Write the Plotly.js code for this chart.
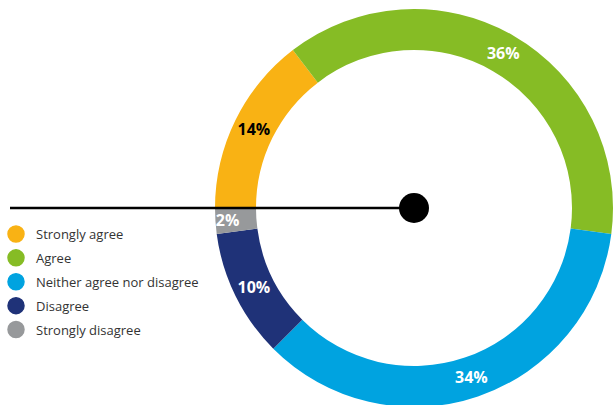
<!DOCTYPE html>
<html>
<head>
<meta charset="utf-8">
<script src="https://cdn.plot.ly/plotly-3.0.1.min.js"></script>
<style>
html, body { margin: 0; padding: 0; overflow: hidden; background: #fff; }
#chart { width: 616px; height: 416px; }
</style>
</head>
<body>
<div id="chart"></div>
<script>
// Data
var categories = ["Strongly agree", "Agree", "Neither agree nor disagree", "Disagree", "Strongly disagree"];
var values = [14, 36, 34, 10, 2];
var labelsText = ["14%", "36%", "34%", "10%", "2%"];
var colors = ["#F9B214", "#86BC25", "#00A3E0", "#1F3278", "#97999B"];
var textColors = ["#000000", "#FFFFFF", "#FFFFFF", "#FFFFFF", "#FFFFFF"];

var W = 616, H = 416;

var traces = [{
  type: "pie",
  labels: categories,
  values: values,
  text: labelsText,
  textinfo: "text",
  textposition: "inside",
  insidetextorientation: "horizontal",
  insidetextfont: { family: "Open Sans", size: 16, color: textColors, weight: "bold" },
  marker: { colors: colors, line: { width: 0 } },
  hole: 0.794,
  sort: false,
  direction: "clockwise",
  rotation: -90,
  showlegend: false,
  domain: { x: [215 / W, 613 / W], y: [0, 1] },
  hoverinfo: "label+text"
}];

categories.forEach(function (c, i) {
  traces.push({
    type: "scatter",
    mode: "markers",
    x: [null], y: [null],
    name: c,
    legendgroup: "g" + i,
    marker: { color: colors[i], size: 16, symbol: "circle", line: { color: colors[i], width: 1.5 } },
    showlegend: true,
    hoverinfo: "skip"
  });
});

var layout = {
  width: W, height: H,
  margin: { l: 0, r: 0, t: 0, b: 0, autoexpand: false },
  paper_bgcolor: "#fff", plot_bgcolor: "rgba(0,0,0,0)",
  font: { family: "Open Sans", color: "#333333" },
  xaxis: { visible: false }, yaxis: { visible: false },
  uniformtext: { minsize: 16, mode: "show" },
  showlegend: true,
  legend: {
    x: -4 / W, y: 1 - 219 / H, xanchor: "left", yanchor: "top",
    font: { family: "Open Sans", size: 13, color: "#333333" },
    bgcolor: "rgba(0,0,0,0)", borderwidth: 0,
    traceorder: "grouped", tracegroupgap: 4
  },
  shapes: [
    { type: "line", xref: "paper", yref: "paper", x0: 10 / W, x1: 414 / W, y0: 0.5, y1: 0.5,
      line: { color: "#000", width: 2.5 } },
    { type: "circle", xref: "paper", yref: "paper",
      x0: 399 / W, x1: 429 / W, y0: 0.5 - 15 / H, y1: 0.5 + 15 / H,
      fillcolor: "#000", line: { width: 0 } }
  ]
};

Plotly.newPlot("chart", traces, layout, { displayModeBar: false, staticPlot: true });
</script>
</body>
</html>
